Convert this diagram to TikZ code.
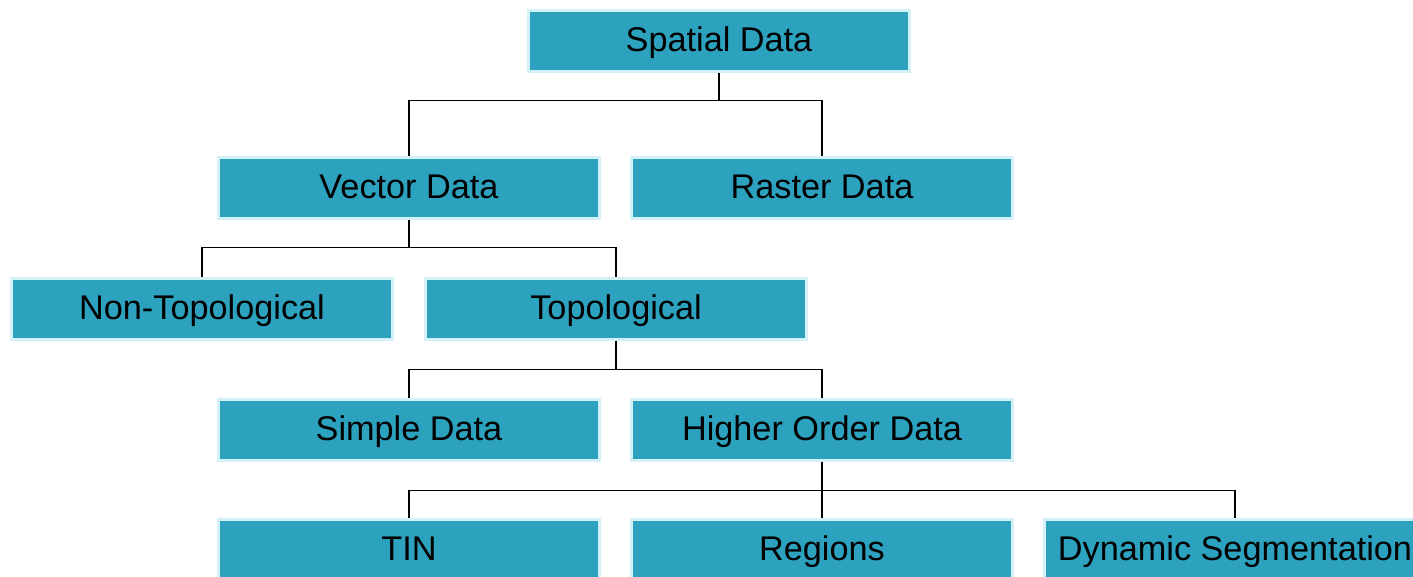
\documentclass[tikz,border=0pt]{standalone}
\usepackage{fontspec}
\setmainfont{Liberation Sans}
\usetikzlibrary{positioning,calc}
\definecolor{boxfill}{HTML}{2CA2BF}
\definecolor{boxrim}{HTML}{D4F1F7}

\begin{document}
\begin{tikzpicture}[x=0.02cm,y=-0.02cm]
  \useasboundingbox (0,0) rectangle (1413,577);
  \clip (0,0) rectangle (1413,577);
  \begin{scope}[
    every node/.style={
      align=center,
      anchor=center,
      draw=boxrim,
      fill=boxfill,
      line width=1.2pt,
      font=\fontsize{19.5}{22}\selectfont,
      text height=13.5pt,
      text depth=1pt,
      minimum width=7.62cm,
      minimum height=1.22cm,
      inner sep=0pt,
    },
    ]
    \node (spatial)  at (719,41)   {Spatial Data};
    \node (vector)   at (409,188)  {Vector Data};
    \node (raster)   at (822,188)  {Raster Data};
    \node (nontopo)  at (202,309)  {Non-Topological};
    \node (topo)     at (616,309)  {Topological};
    \node (simple)   at (409,430)  {Simple Data};
    \node (higher)   at (822,430)  {Higher Order Data};
    \node (tin)      at (409,550)  {TIN};
    \node (regions)  at (822,550)  {Regions};
    \node (dynseg)   at (1235,550) {Dynamic Segmentation};
  \end{scope}
  \begin{scope}[
    every path/.style={draw,black,line width=1pt},
    ]
    \path (spatial.south) -- ++(0,28) -| (vector.north);
    \path (spatial.south) -- ++(0,28) -| (raster.north);
    \path (vector.south)  -- ++(0,28) -| (nontopo.north);
    \path (vector.south)  -- ++(0,28) -| (topo.north);
    \path (topo.south)    -- ++(0,29) -| (simple.north);
    \path (topo.south)    -- ++(0,29) -| (higher.north);
    \path (higher.south)  -- ++(0,29) -| (tin.north);
    \path (higher.south)  -- (regions.north);
    \path (higher.south)  -- ++(0,29) -| (dynseg.north);
  \end{scope}
\end{tikzpicture}
\end{document}
